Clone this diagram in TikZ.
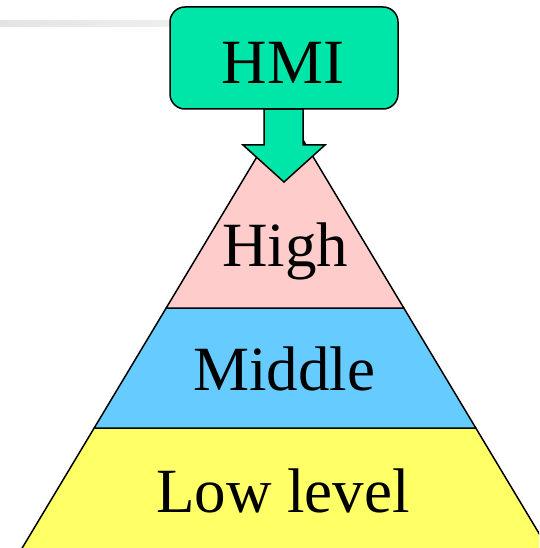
\documentclass[tikz,border=0pt]{standalone}
\usepackage{fontspec}
\setmainfont{Liberation Serif}
\definecolor{hmigreen}{RGB}{0,229,168}
\definecolor{highpink}{RGB}{255,204,204}
\definecolor{midblue}{RGB}{102,204,255}
\definecolor{lowyellow}{RGB}{255,255,102}
\definecolor{lineA}{RGB}{228,228,228}
\definecolor{lineB}{RGB}{245,245,245}
\tikzset{
  layer/.style={draw=black, line width=1.5pt, line join=miter},
  label/.style={anchor=base, inner sep=0pt, font=\fontsize{63}{63}\selectfont},
}
\begin{document}
\begin{tikzpicture}[x=1pt,y=-1pt]
\useasboundingbox (0,0) rectangle (539,548);
\begin{scope}
\clip (0,0) rectangle (539,548);
% faint header line
\shade[left color=lineA, right color=lineB] (0,21) rectangle (280,27);
% pyramid
\coordinate (apex) at (285,110);
\coordinate (hl) at (166.2,308);
\coordinate (hr) at (403.8,308);
\coordinate (ml) at (94.2,428);
\coordinate (mr) at (475.8,428);
\coordinate (bl) at (15,560);
\coordinate (br) at (555,560);
\filldraw[layer, fill=lowyellow] (ml) -- (mr) -- (br) -- (bl) -- cycle;
\filldraw[layer, fill=midblue] (hl) -- (hr) -- (mr) -- (ml) -- cycle;
\filldraw[layer, fill=highpink] (apex) -- (hr) -- (hl) -- cycle;
\end{scope}
% arrow
\filldraw[layer, fill=hmigreen] (264,109) -- (264,145) -- (243,145) -- (284,182) -- (325,145) -- (303,145) -- (303,109) -- cycle;
% HMI box
\filldraw[draw=black, line width=1.5pt, fill=hmigreen, rounded corners=15pt] (170,7) rectangle (398,109);
\node[label] (hmi) at (283,84) {HMI};
\node[label] (high) at (285,266) {High};
\node[label] (mid) at (284,390) {Middle};
\node[label] (low) at (283,512) {Low level};
\end{tikzpicture}
\end{document}
